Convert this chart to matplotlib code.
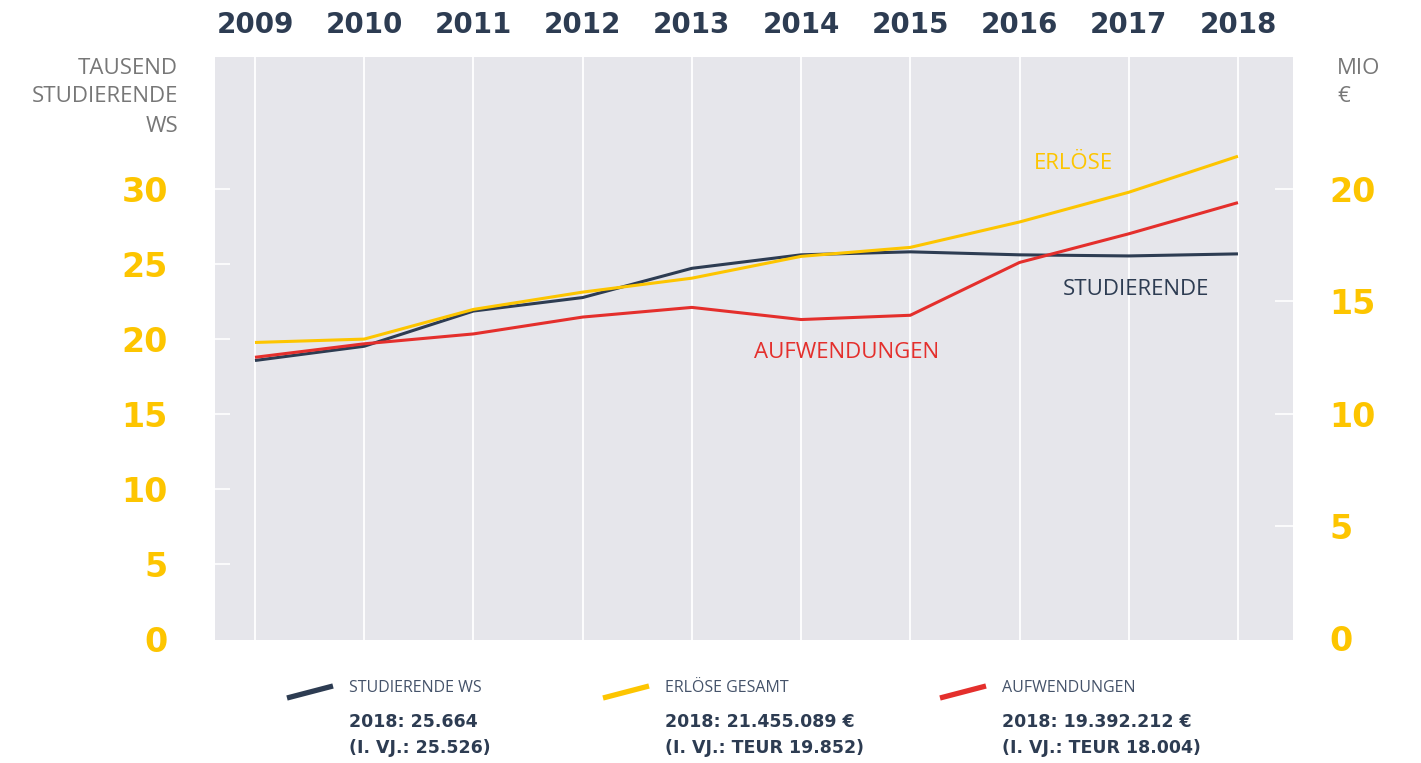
import matplotlib.pyplot as plt
from matplotlib.lines import Line2D

# Werte (Studierende in Tausend, Erlöse/Aufwendungen in Mio €)
jahre = [2009, 2010, 2011, 2012, 2013, 2014, 2015, 2016, 2017, 2018]
studierende = [18.55, 19.5, 21.85, 22.75, 24.7, 25.6, 25.8, 25.6, 25.526, 25.664]
erloese = [13.17, 13.32, 14.64, 15.41, 16.03, 17.0, 17.4, 18.53, 19.852, 21.455]
aufwendungen = [12.51, 13.11, 13.55, 14.3, 14.73, 14.19, 14.38, 16.73, 18.004, 19.392]

ticks_links = [0, 5, 10, 15, 20, 25, 30]
ticks_rechts = [0, 5, 10, 15, 20]

legende_namen = ["STUDIERENDE WS", "ERLÖSE GESAMT", "AUFWENDUNGEN"]
legende_werte = ["2018: 25.664\n(I. VJ.: 25.526)",
                 "2018: 21.455.089 €\n(I. VJ.: TEUR 19.852)",
                 "2018: 19.392.212 €\n(I. VJ.: TEUR 18.004)"]

NAVY = "#2d3c52"
GELB = "#fdc500"
ROT = "#e42f2c"
GRAU = "#777777"
HINTERGRUND = "#e6e6eb"

fig = plt.figure(figsize=(14.21, 7.63), dpi=100)
ax = fig.add_axes([215 / 1421, 123 / 763, 1078 / 1421, 583 / 763])
ax2 = ax.twinx()

ax.set_facecolor(HINTERGRUND)
ax2.set_facecolor("none")
for a in (ax, ax2):
    for s in a.spines.values():
        s.set_visible(False)

ax.plot(jahre, studierende, color=NAVY, lw=2.2, solid_capstyle="butt")
ax2.plot(jahre, erloese, color=GELB, lw=2.2, solid_capstyle="butt")
ax2.plot(jahre, aufwendungen, color=ROT, lw=2.2, solid_capstyle="butt")

ax.set_xlim(2008.634, 2018.504)
ax.set_ylim(-0.1, 38.8)
ax2.set_ylim(-0.067, 25.87)

# Jahre oben
ax.xaxis.tick_top()
ax.set_xticks(jahre)
ax.set_xticklabels([str(j) for j in jahre], fontsize=20, fontweight="bold",
                   color=NAVY, family="DejaVu Sans")
ax.tick_params(axis="x", length=0, pad=13)
ax.grid(axis="x", color="white", lw=1.3)
ax.set_axisbelow(True)

# Achsen links / rechts
ax.set_yticks(ticks_links)
ax.set_yticklabels([str(t) for t in ticks_links], fontsize=24, fontweight="bold",
                   color=GELB, family="DejaVu Sans")
ax.tick_params(axis="y", direction="in", length=11, width=1.2, color="white", pad=34)

ax2.set_yticks(ticks_rechts)
ax2.set_yticklabels([str(t) for t in ticks_rechts], fontsize=24, fontweight="bold",
                    color=GELB, family="DejaVu Sans")
ax2.tick_params(axis="y", direction="in", length=13, width=1.2, color="white", pad=26)

# kein Strich bei 0
ax.yaxis.get_major_ticks()[0].tick1line.set_visible(False)
ax2.yaxis.get_major_ticks()[0].tick2line.set_visible(False)

# Achsentitel
for i, zeile in enumerate(["TAUSEND", "STUDIERENDE", "WS"]):
    fig.text(178 / 1421, 1 - (68 + 29 * i) / 763, zeile, ha="right", va="center",
             fontsize=16, color=GRAU, family="Open Sans")
for i, zeile in enumerate(["MIO", "€"]):
    fig.text(1337 / 1421, 1 - (68 + 29 * i) / 763, zeile, ha="left", va="center",
             fontsize=16, color=GRAU, family="Open Sans")

# Beschriftungen an den Linien
ax.text(2016.49, 31.7, "ERLÖSE", color=GELB, fontsize=16, family="Open Sans",
        ha="center", va="center")
ax.text(2017.07, 23.3, "STUDIERENDE", color=NAVY, fontsize=16, family="Open Sans",
        ha="center", va="center")
ax.text(2014.42, 19.1, "AUFWENDUNGEN", color=ROT, fontsize=16, family="Open Sans",
        ha="center", va="center")

# Legende unten
farben = [NAVY, GELB, ROT]
x_start = [287, 603, 940]
for x0, farbe, name, wert in zip(x_start, farben, legende_namen, legende_werte):
    fig.add_artist(Line2D([x0 / 1421, (x0 + 46) / 1421],
                          [1 - 698 / 763, 1 - 686 / 763],
                          color=farbe, lw=3.8, solid_capstyle="butt"))
    fig.text((x0 + 62) / 1421, 1 - 688 / 763, name, ha="left", va="center",
             fontsize=11.5, color="#45536a", family="Open Sans")
    fig.text((x0 + 62) / 1421, 1 - 713 / 763, wert, ha="left", va="top",
             fontsize=12.5, fontweight="bold", color=NAVY, family="DejaVu Sans",
             linespacing=1.6)

fig.savefig("out.png", dpi=100, facecolor="white")
